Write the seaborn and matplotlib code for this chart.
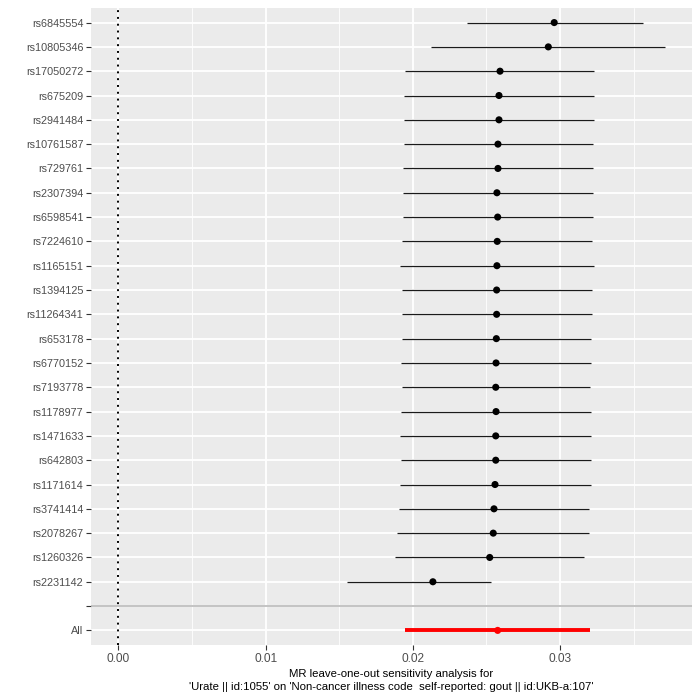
# ===== Imports =====
import numpy as np
import pandas as pd
import matplotlib
matplotlib.use("Agg")
import matplotlib.pyplot as plt
from matplotlib.ticker import MultipleLocator
import seaborn as sns

# ===== Data =====
snps = ["rs6845554", "rs10805346", "rs17050272", "rs675209", "rs2941484",
        "rs10761587", "rs729761", "rs2307394", "rs6598541", "rs7224610",
        "rs1165151", "rs1394125", "rs11264341", "rs653178", "rs6770152",
        "rs7193778", "rs1178977", "rs1471633", "rs642803", "rs1171614",
        "rs3741414", "rs2078267", "rs1260326", "rs2231142"]
b = [0.0296, 0.0292, 0.02592, 0.02585, 0.02585, 0.02578, 0.02578, 0.02571,
     0.02576, 0.02573, 0.02571, 0.02569, 0.02569, 0.02567, 0.02565, 0.02563,
     0.02565, 0.02563, 0.02563, 0.02558, 0.02551, 0.02546, 0.02522, 0.02136]
lo = [0.0237, 0.0212, 0.01946, 0.01939, 0.01939, 0.01939, 0.01932, 0.01932,
      0.01930, 0.01927, 0.01914, 0.01925, 0.01925, 0.01925, 0.01918, 0.01925,
      0.01920, 0.01914, 0.01918, 0.01912, 0.01907, 0.01893, 0.01880, 0.01551]
hi = [0.0356, 0.0371, 0.03231, 0.03231, 0.03231, 0.03224, 0.03224, 0.03224,
      0.03222, 0.03220, 0.03229, 0.03218, 0.03218, 0.03211, 0.03211, 0.03206,
      0.03209, 0.03213, 0.03209, 0.03209, 0.03197, 0.03197, 0.03163, 0.02531]
all_b, all_lo, all_hi = 0.02576, 0.01946, 0.03204

xlab = ("MR leave-one-out sensitivity analysis for\n"
        "'Urate || id:1055' on 'Non-cancer illness code  self-reported: gout || id:UKB-a:107'")

# ===== Build table =====
df = pd.DataFrame({"SNP": snps, "b": b, "lo": lo, "hi": hi})
df["pos"] = np.arange(len(df) + 2, 2, -1)   # SNPs from the top, blank row at 2
all_df = pd.DataFrame({"SNP": ["All"], "b": [all_b], "lo": [all_lo], "hi": [all_hi], "pos": [1]})

# ===== Theme (ggplot-ish) =====
sns.set_theme(style="darkgrid", rc={
    "axes.facecolor": "#EBEBEB",
    "grid.color": "white",
    "axes.edgecolor": "none",
    "xtick.bottom": True, "ytick.left": True,
    "xtick.color": "#333333", "ytick.color": "#333333",
    "xtick.major.size": 3.5, "ytick.major.size": 3.5,
    "xtick.major.width": 0.8, "ytick.major.width": 0.8,
    "xtick.major.pad": 2, "ytick.major.pad": 2,
})
plt.rcParams["font.family"] = ["Liberation Sans", "DejaVu Sans"]

fig = plt.figure(figsize=(7, 7), dpi=100)
ax = fig.add_axes([0.13, 0.0786, 0.8586, 0.91])

# ===== Grid =====
ax.xaxis.set_major_locator(MultipleLocator(0.01))
ax.xaxis.set_minor_locator(MultipleLocator(0.005))
ax.grid(True, which="major", axis="both", color="white", linewidth=1.3)
ax.grid(True, which="minor", axis="x", color="white", linewidth=0.6)
ax.set_axisbelow(True)

# ===== Marks =====
ax.axvline(0, color="black", linestyle=(0, (1, 2.5)), linewidth=1.4, zorder=2)
ax.axhline(2, color="#B3B3B3", linewidth=1.1, zorder=2)
ax.hlines(df["pos"], df["lo"], df["hi"], color="#1A1A1A", linewidth=0.9, zorder=3)
ax.hlines(all_df["pos"], all_df["lo"], all_df["hi"], color="red", linewidth=2.8, zorder=3)
sns.scatterplot(data=df, x="b", y="pos", color="black", s=26, edgecolor="none", ax=ax, zorder=4)
sns.scatterplot(data=all_df, x="b", y="pos", color="red", s=26, edgecolor="none", ax=ax, zorder=4)

# ===== Axes =====
ax.set_xlim(-0.00186, 0.03896)
ax.set_ylim(0.4, len(df) + 2.6)
yticks = list(df["pos"]) + [2, 1]
ylabels = list(df["SNP"]) + ["", "All"]
ax.set_yticks(yticks)
ax.set_yticklabels(ylabels)
ax.set_xticks([0, 0.01, 0.02, 0.03])
ax.set_xticklabels(["0.00", "0.01", "0.02", "0.03"])
ax.tick_params(axis="y", which="major", labelsize=7.8, labelcolor="#4D4D4D")
ax.tick_params(axis="x", which="major", labelsize=8.6, labelcolor="#4D4D4D")
ax.tick_params(axis="x", which="minor", bottom=False)
ax.set_ylabel("")
ax.set_xlabel(xlab, fontsize=8.2, color="black", labelpad=3, linespacing=1.35)
for s in ax.spines.values():
    s.set_visible(False)

fig.savefig("out.png", dpi=100)
